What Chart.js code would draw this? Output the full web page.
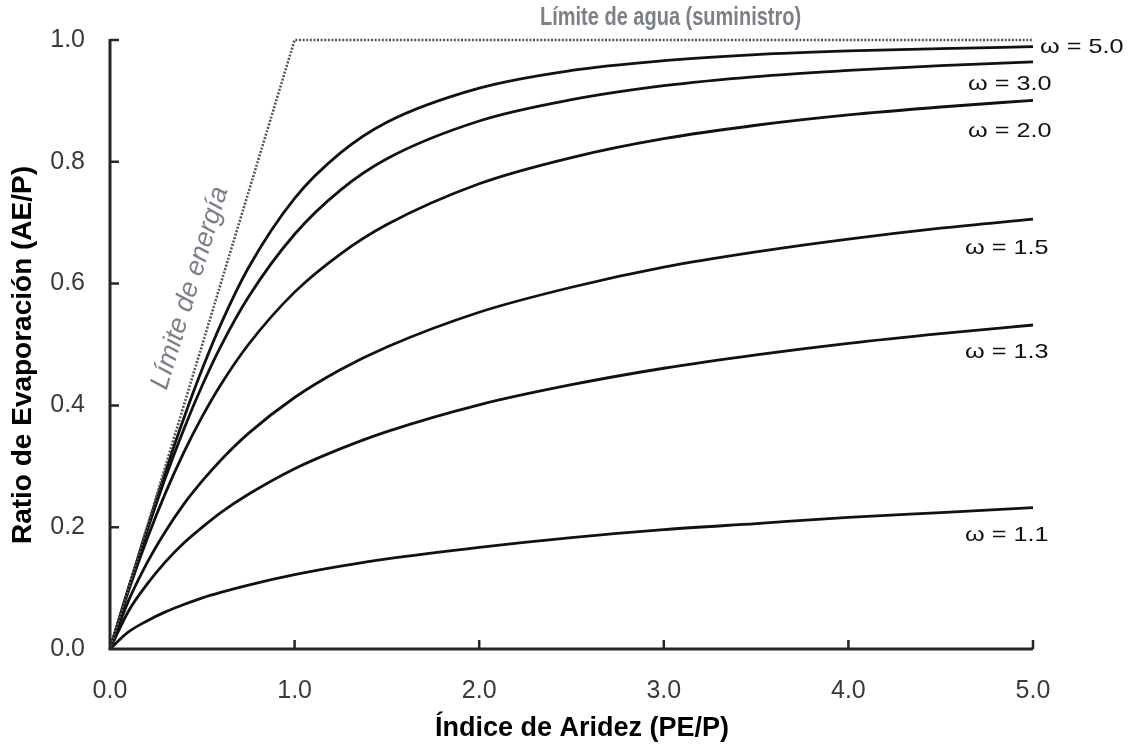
<!DOCTYPE html>
<html>
<head>
<meta charset="utf-8">
<script src="https://cdn.jsdelivr.net/npm/chart.js@4.4.1/dist/chart.umd.min.js"></script>
<style>
  html, body { margin: 0; padding: 0; background: #fff; }
  #wrap { width: 1132px; height: 749px; }
</style>
</head>
<body>
<div id="wrap"><canvas id="budykoChart" width="1132" height="749"></canvas></div>
<script>
// Índice de aridez (PE/P) where the curves were read
const aridity = [0, 0.1, 0.2, 0.3, 0.4, 0.5, 0.6, 0.75, 1, 1.25, 1.5, 2, 2.5, 3, 3.5, 4, 4.5, 5];

// Ratio de evaporación (AE/P), one array per curve
const omega50 = [0, 0.100, 0.197, 0.291, 0.379, 0.460, 0.533, 0.626, 0.740, 0.815, 0.865, 0.921, 0.950, 0.966, 0.976, 0.982, 0.986, 0.989];
const omega30 = [0, 0.099, 0.193, 0.281, 0.361, 0.433, 0.497, 0.578, 0.681, 0.754, 0.805, 0.867, 0.902, 0.925, 0.940, 0.950, 0.958, 0.964];
const omega20 = [0, 0.095, 0.180, 0.256, 0.323, 0.382, 0.434, 0.500, 0.586, 0.649, 0.697, 0.764, 0.807, 0.838, 0.860, 0.877, 0.890, 0.901];
const omega15 = [0, 0.079, 0.141, 0.193, 0.238, 0.276, 0.310, 0.354, 0.413, 0.459, 0.496, 0.553, 0.594, 0.627, 0.652, 0.673, 0.691, 0.706];
const omega13 = [0, 0.062, 0.106, 0.143, 0.174, 0.200, 0.224, 0.254, 0.296, 0.329, 0.357, 0.401, 0.434, 0.461, 0.483, 0.502, 0.518, 0.532];
const omega11 = [0, 0.028, 0.046, 0.061, 0.073, 0.084, 0.093, 0.105, 0.122, 0.136, 0.148, 0.167, 0.183, 0.196, 0.206, 0.216, 0.224, 0.232];

// energy limit (1:1) then water limit (AE/P = 1)
const limitX = [0, 1, 5];
const limitY = [0, 1, 1];

const curveNames = ['ω = 5.0', 'ω = 3.0', 'ω = 2.0', 'ω = 1.5', 'ω = 1.3', 'ω = 1.1'];
const xTickValues = [0, 1, 2, 3, 4, 5];
const yTickValues = [0, 0.2, 0.4, 0.6, 0.8, 1.0];

const toPoints = (xs, ys) => xs.map((v, i) => ({ x: v, y: ys[i] }));

const curves = [omega50, omega30, omega20, omega15, omega13, omega11].map((ys, i) => ({
    label: curveNames[i],
    data: toPoints(aridity, ys),
    borderColor: '#111',
    borderWidth: 2.8,
    pointRadius: 0,
    cubicInterpolationMode: 'monotone',
    fill: false,
    clip: 4
}));

const limitLine = {
    label: 'Límite',
    data: toPoints(limitX, limitY),
    borderColor: '#555',
    borderWidth: 2.6,
    borderDash: [2, 1.6],
    pointRadius: 0,
    tension: 0,
    fill: false,
    clip: 4
};

const GREY = '#7c8088';

// text squeezed or widened horizontally, like the source figure
function drawText(ctx, text, px, py, sx) {
    ctx.save();
    ctx.translate(px, py);
    ctx.scale(sx, 1);
    ctx.fillText(text, 0, 0);
    ctx.restore();
}

// axes with inward ticks plus the text annotations
const decorations = {
    id: 'decorations',
    afterDraw(chart) {
        const { ctx, chartArea: a, scales: { x, y } } = chart;
        ctx.save();
        ctx.strokeStyle = '#262626';
        ctx.lineWidth = 3;
        ctx.beginPath();
        ctx.moveTo(a.left, a.top - 1);
        ctx.lineTo(a.left, a.bottom);
        ctx.lineTo(a.right, a.bottom);
        ctx.stroke();

        ctx.lineWidth = 2.5;
        ctx.beginPath();
        xTickValues.slice(1).forEach(v => {
            const px = x.getPixelForValue(v);
            ctx.moveTo(px, a.bottom);
            ctx.lineTo(px, a.bottom - 9);
        });
        yTickValues.slice(1).forEach(v => {
            const py = y.getPixelForValue(v);
            ctx.moveTo(a.left, py);
            ctx.lineTo(a.left + 9, py);
        });
        ctx.stroke();

        // curve labels
        ctx.fillStyle = '#111';
        ctx.font = '21px "Liberation Sans", Arial, sans-serif';
        ctx.textBaseline = 'middle';
        ctx.textAlign = 'left';
        const labelPos = [[1040, 47], [968, 84], [968, 131], [965, 248], [965, 352], [965, 535]];
        curveNames.forEach((t, i) => drawText(ctx, t, labelPos[i][0], labelPos[i][1], 1.2));

        // limit annotations
        ctx.fillStyle = GREY;
        ctx.font = 'bold 25px "Liberation Sans", Arial, sans-serif';
        drawText(ctx, 'Límite de agua (suministro)', 540, 18, 0.8);

        ctx.save();
        ctx.translate(190, 288);
        ctx.rotate(-73 * Math.PI / 180);
        ctx.textAlign = 'center';
        ctx.font = 'italic 27px "Liberation Sans", Arial, sans-serif';
        ctx.fillText('Límite de energía', 0, 0);
        ctx.restore();

        // axis titles
        ctx.fillStyle = '#000';
        ctx.textAlign = 'center';
        ctx.font = 'bold 27px "Liberation Sans", Arial, sans-serif';
        ctx.fillText('Índice de Aridez (PE/P)', 582, 729);

        ctx.save();
        ctx.translate(23, 355);
        ctx.rotate(-Math.PI / 2);
        ctx.font = 'bold 28px "Liberation Sans", Arial, sans-serif';
        ctx.fillText('Ratio de Evaporación (AE/P)', 0, 0);
        ctx.restore();

        ctx.restore();
    }
};

const tickFont = { family: '"Liberation Sans", Arial, sans-serif', size: 25 };

new Chart(document.getElementById('budykoChart').getContext('2d'), {
    type: 'line',
    data: { datasets: [limitLine, ...curves] },
    options: {
        responsive: false,
        animation: false,
        devicePixelRatio: 1,
        layout: { padding: { top: 39, right: 99, left: 0, bottom: 0 } },
        plugins: { legend: { display: false }, tooltip: { enabled: false } },
        scales: {
            x: {
                type: 'linear',
                min: 0,
                max: 5,
                grid: { display: false, drawTicks: false },
                border: { display: false },
                ticks: {
                    stepSize: 1,
                    font: tickFont,
                    color: '#3a3a3a',
                    padding: 27,
                    maxRotation: 0,
                    callback: v => v.toFixed(1)
                },
                afterFit: s => { s.height = 100; }
            },
            y: {
                type: 'linear',
                min: 0,
                max: 1,
                grid: { display: false, drawTicks: false },
                border: { display: false },
                ticks: {
                    stepSize: 0.2,
                    font: tickFont,
                    color: '#3a3a3a',
                    padding: 25,
                    callback: v => v.toFixed(1)
                },
                afterFit: s => { s.width = 110; }
            }
        }
    },
    plugins: [decorations]
});
</script>
</body>
</html>
